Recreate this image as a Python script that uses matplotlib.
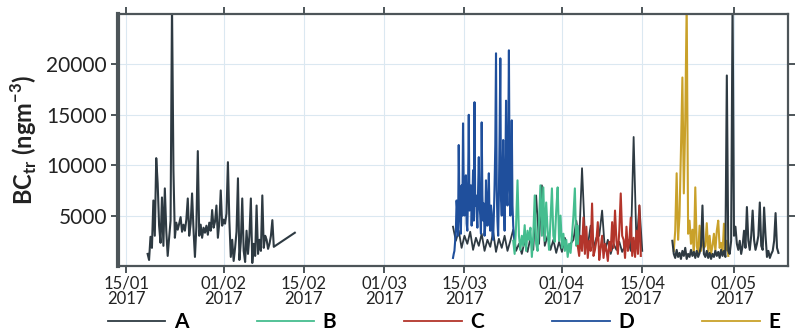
import numpy as np
import pandas as pd
import matplotlib
matplotlib.use('Agg')
import matplotlib.pyplot as plt
import matplotlib.dates as mdates

plt.rcParams['font.family'] = ['Lato', 'DejaVu Sans']
plt.rcParams['mathtext.fontset'] = 'custom'
plt.rcParams['mathtext.rm'] = 'Lato'
plt.rcParams['mathtext.bf'] = 'Lato:bold'

# BC_tr values (ng m-3), 6-hourly unless noted
a1_start = '2017-01-18 18:00'
a1_vals = [1200, 600, 2900, 1800, 6500, 3000, 10700, 8200, 4000, 2300, 6800, 2000, 7700, 3500, 1000, 2800,
           4500, 26000, 9500, 2800, 4300, 3600, 4200, 4850, 3400, 4100, 3500, 4600, 6700, 3000, 4200, 7200,
           3600, 900, 3900, 11400, 3000, 4100, 2800, 3800, 3300, 4000, 3100, 4300, 3500, 5550, 3800, 4400,
           6000, 2800, 4300, 7500, 4000, 4600, 4200, 5200, 10300, 4500, 900, 2600, 500, 1800, 3400, 8700,
           600, 2400, 6700, 1500, 400, 3500, 1200, 3000, 6700, 300, 2200, 1000, 6000, 1200, 2600, 1500,
           7000, 1800, 3000, 2600, 1700, 2200, 3000, 4550, 1900]
a1_tail_t = ['2017-02-10 00:00', '2017-02-13 10:00']
a1_tail_v = [2000, 3300]

# 12-hourly background of A during the coloured periods
a2_start = '2017-03-13 00:00'
a2_vals = [3900, 2500, 3500, 1800, 3000, 2200, 3400, 1600, 2800, 2000, 3200, 1500, 2600, 1900, 3400, 1400,
           2700, 1800, 3000, 1500, 2500, 3600, 1500, 2200, 1200, 2500, 1400, 2800, 1600, 7000, 2200, 8000,
           2000, 3000, 1600, 2600, 1300, 2400, 1400, 2800, 1600, 2200, 2600, 4500, 2500, 9700, 3000, 2000,
           4000, 1800, 2800, 3000, 5500, 1500, 2600, 1200, 2200, 1600, 2400, 1400, 2000, 2600, 1500, 12800,
           2000, 6000, 1500]

a3_start = '2017-04-20 06:00'
a3_vals = [2500, 1200, 800, 1600, 900, 1300, 700, 1500, 1000, 1800, 700, 1200, 900, 1600, 1000, 1400,
           800, 1500, 900, 1300, 2000, 6000, 1200, 900, 1500, 800, 1300, 700, 1200, 900, 1500, 1000,
           1400, 800, 1600, 1000, 1500, 900, 18900, 1500, 1200, 2500, 26000, 3000, 3900, 2200, 1600, 2500,
           1200, 2000, 3500, 1800, 5850, 2500, 1600, 3000, 5500, 2600, 1600, 2200, 3000, 6300, 2000, 1600,
           5800, 3000, 900, 1500, 800, 1200, 1500, 2500, 5250, 1800, 1300]

b_start = '2017-03-23 12:00'
b_vals = [2500, 1200, 4000, 8500, 3000, 1580, 3000, 2000, 4050, 1500, 3500, 2600, 3800, 900, 3000, 7000,
          2200, 1500, 4500, 8000, 3000, 7800, 2500, 6300, 3500, 1600, 4500, 7700, 3000, 2400, 5500, 7800,
          2500, 5000, 1800, 3200, 1500, 2600, 900, 2200, 1300, 3000, 5000, 7700, 2000, 4000, 1500]

c_start = '2017-04-03 18:00'
c_vals = [2000, 1000, 3000, 1500, 4800, 1200, 3900, 800, 2500, 1500, 6200, 1000, 1600, 2500, 4350, 600,
          1800, 3000, 800, 2200, 1600, 500, 2400, 1500, 4350, 1800, 5500, 2500, 1200, 3500, 7200, 3000,
          2600, 800, 3900, 1500, 2500, 4800, 1000, 2800, 900, 3500, 1200, 6000, 1000]

# D is denser in the figure: 3-hourly
d_start = '2017-03-13 00:00'
d_vals = [800, 1200, 1500, 2500, 3500, 6500, 5500, 3000, 12000, 6000, 4500, 3200, 8000, 5000, 14150, 7000,
          5000, 8500, 9000, 4200, 3500, 7500, 15000, 5500, 6000, 8000, 4000, 6500, 9500, 4500, 16250, 6000,
          7000, 5200, 3800, 7500, 10800, 6000, 5000, 3200, 14250, 7000, 4500, 6200, 3000, 4000, 8500, 5500,
          4000, 6500, 9200, 4500, 3500, 6000, 5250, 3200, 2600, 5000, 8000, 12000, 21100, 7500, 4500, 3000,
          7000, 13000, 20600, 6500, 5000, 8000, 12500, 6000, 3500, 9000, 16400, 7500, 6000, 12000, 21400, 8000,
          5000, 8500, 14450, 6000, 4000, 3000, 2500]

e_start = '2017-04-20 12:00'
e_vals = [1500, 3500, 9200, 2600, 5000, 11500, 18700, 7200, 14450, 26000, 3200, 4500, 2200, 3600, 1200, 7800,
          2000, 1200, 4000, 1500, 3000, 1800, 2000, 4250, 1400, 3000, 1200, 2000, 3200, 1500, 3500, 4500,
          1800, 2300, 1200, 4200, 1500, 2500, 1000]

labels = ['A', 'B', 'C', 'D', 'E']
colors = {'A': '#2e3a42', 'B': '#45bd8f', 'C': '#b3352b', 'D': '#1f4f9c', 'E': '#c9a12a'}
tick_dates = ['2017-01-15', '2017-02-01', '2017-02-15', '2017-03-01', '2017-03-15',
              '2017-04-01', '2017-04-15', '2017-05-01']
y_ticks = [5000, 10000, 15000, 20000]


def series(start, vals, freq='6h'):
    return pd.date_range(start, periods=len(vals), freq=freq), np.array(vals)


fig = plt.figure(figsize=(8.01, 3.35), dpi=100)
ax = fig.add_axes([118 / 801, 1 - 266 / 335, (788 - 118) / 801, (266 - 14) / 335])

lw = 1.5
# background A first, coloured periods on top of it
t2, v2 = series(a2_start, a2_vals, freq='12h')
ax.plot(t2, v2, color=colors['A'], lw=1.3)
for key, start, vals, freq in [('D', d_start, d_vals, '3h'), ('B', b_start, b_vals, '6h'),
                               ('C', c_start, c_vals, '6h'), ('E', e_start, e_vals, '6h')]:
    t, v = series(start, vals, freq)
    ax.plot(t, v, color=colors[key], lw=lw)

t1, v1 = series(a1_start, a1_vals)
t1 = t1.append(pd.DatetimeIndex(a1_tail_t))
v1 = np.concatenate([v1, a1_tail_v])
ax.plot(t1, v1, color=colors['A'], lw=lw)
t3, v3 = series(a3_start, a3_vals)
ax.plot(t3, v3, color=colors['A'], lw=lw)

ax.set_xlim(pd.Timestamp('2017-01-13 14:00'), pd.Timestamp('2017-05-10 10:00'))
ax.set_ylim(0, 25000)
ax.set_xticks(pd.to_datetime(tick_dates))
ax.xaxis.set_major_formatter(mdates.DateFormatter('%d/%m\n%Y'))
ax.set_yticks(y_ticks)

ax.grid(True, color='#dbe8f1', lw=0.8)
ax.set_axisbelow(True)
for side in ['top', 'bottom', 'right']:
    ax.spines[side].set_color('#4d5559')
    ax.spines[side].set_linewidth(1.6)
ax.spines['left'].set_color('#4d5559')
ax.spines['left'].set_linewidth(3.0)

ax.tick_params(axis='both', which='major', direction='out', length=5, width=1.4, color='#4d5559',
               top=True, right=True, labelcolor='#222222')
ax.tick_params(axis='y', labelsize=15, pad=3)
ax.tick_params(axis='x', labelsize=12, pad=2)
for lab in ax.get_xticklabels():
    lab.set_linespacing(0.95)

ax.set_ylabel(r'BC$_{\mathbf{tr}}$ (ngm$^{\mathbf{-3}}$)', fontsize=17, fontweight='bold', color='#222222')
ax.yaxis.set_label_coords(-0.118, 0.5)

handles = [plt.Line2D([], [], color=colors[k], lw=1.3) for k in labels]
fig.legend(handles, labels, loc='center left', bbox_to_anchor=(108 / 801, 13 / 335), ncol=5,
           frameon=False, borderpad=0, borderaxespad=0, handlelength=2.75, handletextpad=0.4,
           columnspacing=3.29, prop={'weight': 'bold', 'size': 15})

fig.savefig('out.png', dpi=100)
